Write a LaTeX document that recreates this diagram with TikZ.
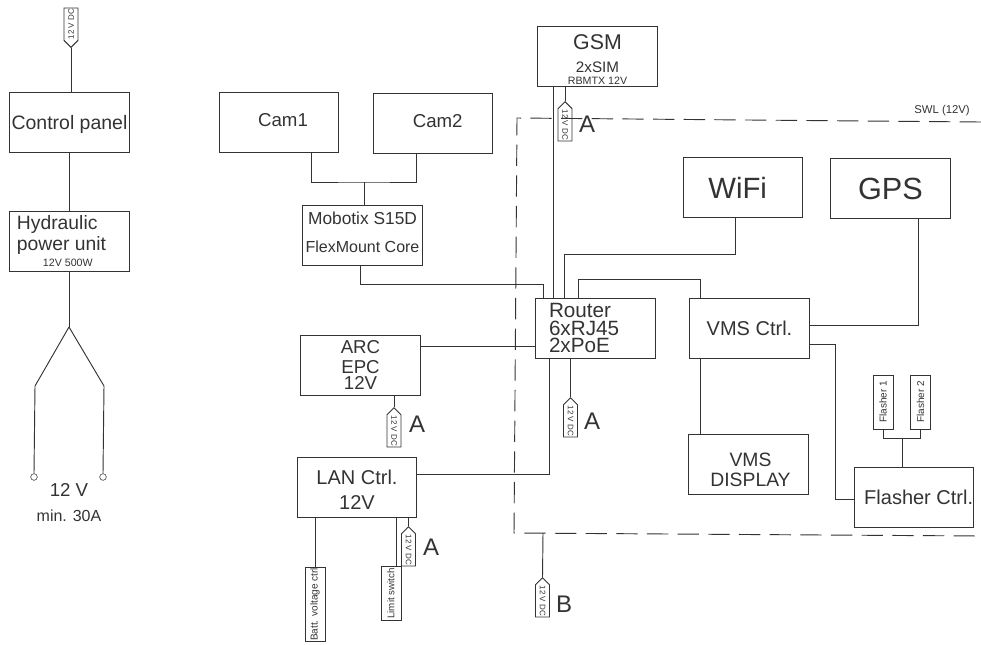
\documentclass[tikz,border=0pt]{standalone}
\usepackage{fontspec}
\setmainfont{Liberation Sans}
\usetikzlibrary{shapes,shapes.symbols}
\definecolor{inkgray}{gray}{0.2}
\newcommand{\fs}[1]{\fontsize{#1}{#1}\selectfont}
\newcommand{\nudge}[3]{\raisebox{#2}[\height][\depth]{\kern#1\relax #3\kern-#1\relax}}
\tikzset{
  unit/.style={draw=inkgray, line width=0.7pt, inner sep=0pt, minimum width=89.5pt, minimum height=45pt, align=center, text=inkgray, font=\fs{14}},
  wire/.style={draw=inkgray, line width=0.7pt},
  swl/.style={draw=inkgray, line width=0.7pt, dash pattern=on 16pt off 7pt},
  fuse/.style={draw=inkgray, line width=0.7pt, shape=signal, signal to=west, signal pointer angle=90, inner sep=0.5pt, minimum width=29.5pt, minimum height=10.5pt, text=inkgray, font=\fs{6}, anchor=west},
  strip/.style={draw=inkgray, line width=0.7pt, inner sep=0pt, minimum height=15pt, rotate=90, text=inkgray},
  letter/.style={text=inkgray, inner sep=0pt, font=\fs{18}},
  plain/.style={text=inkgray, inner sep=0pt, font=\fs{14}},
}
\begin{document}
\begin{tikzpicture}[x=0.75pt, y=-0.75pt]
    \useasboundingbox (0,0) rectangle (981,644);
    % left column
    \node[unit] (panel) at (69.5,122) {\nudge{0pt}{-1.5pt}{\fs{14.6}Control panel}};
    \node[unit, align=left] (hydraulic) at (69.5,241) {\nudge{-6pt}{-0.5pt}{\fs{14.5}Hydraulic}\\[1pt]\nudge{-6pt}{-1pt}{\fs{14.5}power unit}\\[-0.5pt]\nudge{-6pt}{0.5pt}{\hspace*{19.5pt}\fs{8}12V 500W}};
    \node[fuse, rotate=90] (fuseTop) at (71,48) {12 V DC};
    \coordinate (split) at (69,327);
    \coordinate (legL) at (35,386);
    \coordinate (legR) at (104,386);
    \node[draw=inkgray, circle, inner sep=0pt, minimum size=5pt] (termL) at (34,477) {};
    \node[draw=inkgray, circle, inner sep=0pt, minimum size=5pt] (termR) at (103,477) {};
    \node[plain] (volt) at (69,490) {12 V};
    \node[plain, font=\fs{12}] (amps) at (69,516) {min. 30A};
    \draw[wire] (fuseTop.west) -- (panel.north -| fuseTop.west);
    \draw[wire] (panel) -- (hydraulic);
    \draw[wire] (hydraulic.south -| split) -- (split);
    \draw[wire] (split) -- (legL) -- (termL.north);
    \draw[wire] (split) -- (legR) -- (termR.north);
    % cameras
    \node[unit] (cam1) at (279,122.5) {\nudge{3pt}{2pt}{Cam1}};
    \node[unit] (cam2) at (433,123.5) {\nudge{3.5pt}{2pt}{Cam2}};
    \node[unit, font=\fs{13}] (mobotix) at (362.5,235) {\nudge{0pt}{2.25pt}{Mobotix S15D}\\[8pt]\nudge{0pt}{2.25pt}{\fs{12}FlexMount Core}};
    \coordinate (camJoin) at (364,182);
    \draw[wire] (cam1.south -| 311,0) |- (camJoin) -| (cam2.south -| 416,0);
    \draw[wire] (camJoin) -- (mobotix.north -| camJoin);
    % middle column
    \node[unit] (arc) at (360.5,365) {\nudge{0pt}{-0.5pt}{ARC}\\[1.5pt]\nudge{0pt}{-0.5pt}{EPC}\\[-1pt]\nudge{0pt}{0.5pt}{12V}};
    \node[unit] (lan) at (357,487.5) {\nudge{0pt}{-1.5pt}{\fs{15}LAN Ctrl.}\\[4.75pt]\nudge{0pt}{-1.5pt}{\fs{15}12V}};
    \node[unit, align=left] (router) at (595.5,328) {\nudge{-8.6pt}{0pt}{\fs{15.5}Router}\\[-1pt]\nudge{-8.6pt}{0pt}{\fs{15.5}6xRJ45}\\[-1pt]\nudge{-8.6pt}{0pt}{\fs{15.5}2xPoE}};
    \node[unit] (gsm) at (597.5,56) {\nudge{0pt}{-4pt}{\fs{16}GSM}\\[4.5pt]\nudge{0pt}{-2.5pt}{\fs{11.4}2xSIM}\\[-3.5pt]\nudge{0pt}{-1.4pt}{\fs{8}RBMTX 12V}};
    \node[unit] (wifi) at (743,187.5) {\nudge{-4pt}{0pt}{\fs{22}WiFi}};
    \node[unit] (gps) at (890.5,188.5) {\fs{23}GPS};
    \node[unit] (vms) at (749.5,328) {\fs{15}VMS Ctrl.};
    \node[unit] (display) at (748.5,464) {\nudge{1.5pt}{-4.5pt}{\fs{14.5}VMS}\\[1pt]\nudge{1.5pt}{-4.5pt}{\fs{14.5}DISPLAY}};
    \node[unit] (flashCtrl) at (914,497) {\nudge{3.5pt}{0pt}{\fs{15}Flasher Ctrl.}};
    \node[strip, minimum width=40.5pt, font=\fs{7.5}] (flashOne) at (883,402) {Flasher 1};
    \node[strip, minimum width=40.5pt, font=\fs{7.5}] (flashTwo) at (920.5,402) {Flasher 2};
    \node[strip, minimum width=56pt, font=\fs{7.5}] (battCtrl) at (315,604.5) {Batt. voltage ctrl};
    \node[strip, minimum width=40pt, font=\fs{7.3}] (limit) at (391,593.5) {Limit switch};
    % fuses
    \node[fuse, rotate=-90] (fuseGsm) at (565,101) {12 V DC};
    \node[fuse, rotate=-90] (fuseArc) at (394,407) {12 V DC};
    \node[fuse, rotate=-90] (fuseRouter) at (570.5,397) {12 V DC};
    \node[fuse, rotate=-90] (fuseLan) at (408.5,526) {12 V DC};
    \node[fuse, rotate=-90] (fuseB) at (542.5,577) {12 V DC};
    \node[letter] (letterGsm) at (587,124) {A};
    \node[letter] (letterArc) at (417,424) {A};
    \node[letter] (letterRouter) at (592,421) {A};
    \node[letter] (letterLan) at (431,547) {A};
    \node[letter] (letterB) at (564,604) {B};
    \node[text=inkgray, inner sep=0pt, font=\fs{8.5}] (swlText) at (942,111) {SWL (12V)};
    % supply box
    \coordinate (swlB) at (543,533);
    \draw[swl] (981,122) -- (517,118) -- (514,533) -- (981,536);
    % wiring
    \draw[wire] (gsm.south -| 553.5,0) -- (router.north -| 553.5,0);
    \draw[wire] (gsm.south -| fuseGsm.west) -- (fuseGsm.west);
    \draw[wire] (mobotix.south -| 360,0) |- (543,284) -- (router.north -| 543,0);
    \draw[wire] (wifi.south -| 735,0) |- (564,254) -- (router.north -| 564,0);
    \draw[wire] (router.north -| 578,0) |- (700,279) -- (vms.north -| 700,0);
    \draw[wire] (gps.south -| 918,0) |- (vms.east |- 0,325);
    \draw[wire] (vms.east |- 0,344) -| (835,499) -- (flashCtrl.west |- 0,499);
    \draw[wire] (vms.south -| 700,0) -- (display.north -| 700,0);
    \draw[wire] (arc.east |- 0,346) -- (router.west |- 0,346);
    \draw[wire] (arc.south -| fuseArc.west) -- (fuseArc.west);
    \draw[wire] (router.south -| fuseRouter.west) -- (fuseRouter.west);
    \draw[wire] (lan.east |- 0,474) -| (router.south -| 549,0);
    \draw[wire] (lan.south -| battCtrl.east) -- (battCtrl.east);
    \draw[wire] (lan.south -| 396,0) -- (limit.east -| 396,0);
    \draw[wire] (lan.south -| fuseLan.west) -- (fuseLan.west);
    \draw[wire] (swlB) -- (fuseB.west);
    % flashers
    \coordinate (flashJoin) at (902,438);
    \draw[wire] (flashOne.west) |- (flashJoin) -| (flashTwo.west);
    \draw[wire] (flashJoin) -- (flashCtrl.north -| flashJoin);
\end{tikzpicture}
\end{document}
